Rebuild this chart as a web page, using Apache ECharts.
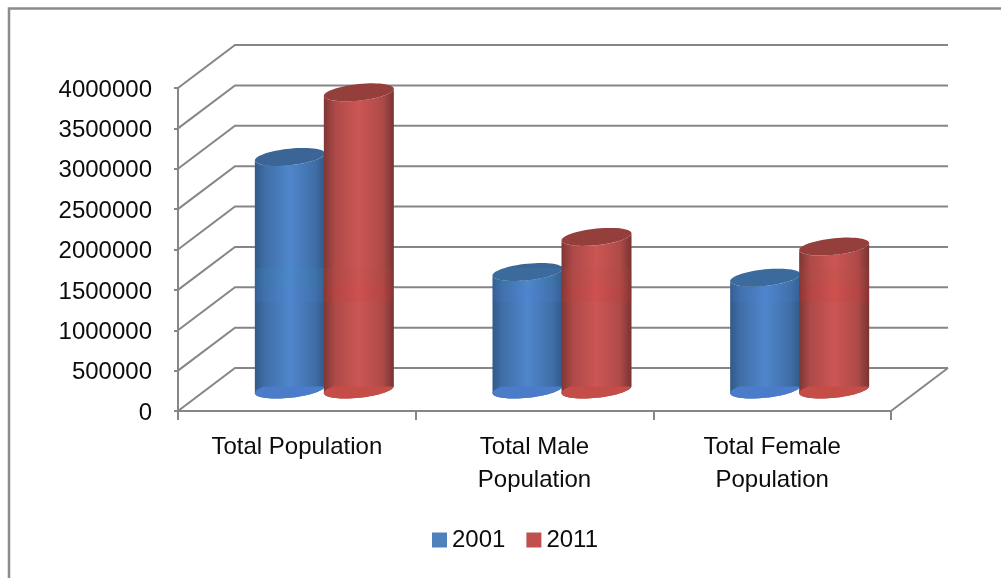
<!DOCTYPE html>
<html>
<head>
<meta charset="utf-8">
<style>html,body{margin:0;padding:0;background:#fff}#c{width:1001px;height:578px}</style>
<script src="https://cdn.jsdelivr.net/npm/echarts@6/dist/echarts.min.js"></script>
</head>
<body>
<div id="c"></div>
<script>
var categories = ['Total Population', 'Total Male\nPopulation', 'Total Female\nPopulation'];
var seriesNames = ['2001', '2011'];
var values2001 = [2880000, 1455000, 1385000];
var values2011 = [3680000, 1890000, 1770000];
var yTicks = [0, 500000, 1000000, 1500000, 2000000, 2500000, 3000000, 3500000, 4000000];

var AXIS = '#868686', FONT = 'Liberation Sans', TEXT = '#0c0c0c';
var DX = 57, DY = 43, RX = 35, RY = 8.3, TILT = 3.5;

function hGrad(stops) {
  return { type: 'linear', x: 0, y: 0, x2: 1, y2: 0,
    colorStops: stops.map(function (s) { return { offset: s[0], color: s[1] }; }) };
}
function ellipsePts(cx, cy, from, to, n) {
  var pts = [];
  for (var i = 0; i <= n; i++) {
    var t = from + (to - from) * i / n;
    pts.push([cx + RX * Math.cos(t), cy + RY * Math.sin(t) - TILT * Math.cos(t)]);
  }
  return pts;
}
function clampY(pts, a, b) {
  return pts.map(function (p) { return [p[0], Math.min(b, Math.max(a, p[1]))]; });
}
function wallItem(params, api) {
  var p = api.coord([0, api.value(1)]);
  var right = params.coordSys.x + params.coordSys.width;
  var left = params.coordSys.x;
  return { type: 'polyline', silent: true,
    shape: { points: [[left, p[1]], [left + DX, p[1] - DY], [right + DX, p[1] - DY]] },
    style: { stroke: AXIS, lineWidth: 2, fill: null } };
}
function floorItem(params) {
  var c = params.coordSys;
  var y = c.y + c.height;
  return { type: 'line', silent: true,
    shape: { x1: c.x + c.width, y1: y, x2: c.x + c.width + DX, y2: y - DY },
    style: { stroke: AXIS, lineWidth: 2 } };
}
function cylinder(side, grad, topColor, baseColor, bandA, bandB) {
  return function (params, api) {
    var top = api.coord([api.value(0), api.value(1)]);
    var base = api.coord([api.value(0), 0]);
    var mid = api.coord([api.value(0), 1500000]);
    var cx = top[0] + DX / 2 - 1 + side * 34.5;
    var ty = top[1] - DY / 2;
    var by = base[1] - DY / 2;
    var body = ellipsePts(cx, by, 0, Math.PI, 40).concat(ellipsePts(cx, ty, Math.PI, 0, 40));
    var outline = ellipsePts(cx, by, 0, Math.PI, 40).concat(ellipsePts(cx, ty, Math.PI, 2 * Math.PI, 40));
    var baseCap = clampY(ellipsePts(cx, by, 0, 2 * Math.PI, 60), by - 3, Infinity);
    var bandTop = mid[1] - 22;
    return { type: 'group', silent: true, children: [
      { type: 'polygon', shape: { points: body }, style: { fill: hGrad(grad) } },
      { type: 'polygon', shape: { points: baseCap }, style: { fill: baseColor } },
      { type: 'polygon', shape: { points: ellipsePts(cx, ty, 0, 2 * Math.PI, 60) }, style: { fill: topColor } },
      { type: 'polygon', shape: { points: clampY(outline, bandTop, bandTop + 17) }, style: { fill: bandA } },
      { type: 'polygon', shape: { points: clampY(outline, bandTop + 17, bandTop + 34) }, style: { fill: bandB } }
    ] };
  };
}
function pairs(vals) { return vals.map(function (v, i) { return [i, v]; }); }

var chart = echarts.init(document.getElementById('c'), null, { renderer: 'canvas' });
chart.setOption({
  animation: false,
  backgroundColor: '#fff',
  textStyle: { fontFamily: FONT },
  graphic: [{ type: 'polyline', silent: true,
    shape: { points: [[9, 578], [9, 8.5], [1001, 8.5]] },
    style: { stroke: '#8c8c8c', lineWidth: 2.5, fill: null } }],
  grid: { left: 178, top: 88, width: 713, height: 323, containLabel: false },
  legend: {
    data: seriesNames, left: 432, top: 528, icon: 'rect', itemWidth: 15, itemHeight: 15,
    itemGap: 21, selectedMode: false, padding: 0,
    textStyle: { fontFamily: FONT, fontSize: 24, color: TEXT, padding: [5, 0, 0, 0] }
  },
  xAxis: {
    type: 'category', data: categories, boundaryGap: true,
    axisLine: { show: true, onZero: false, lineStyle: { color: AXIS, width: 2 } },
    axisTick: { show: true, length: 9, alignWithLabel: false, lineStyle: { color: AXIS, width: 2 } },
    axisLabel: { color: TEXT, fontFamily: FONT, fontSize: 24, lineHeight: 33, margin: 20, interval: 0 },
    splitLine: { show: false }
  },
  yAxis: {
    type: 'value', min: 0, max: 4000000, interval: 500000,
    axisLine: { show: true, lineStyle: { color: AXIS, width: 2 } },
    axisTick: { show: true, length: 4, lineStyle: { color: AXIS, width: 2 } },
    axisLabel: { color: TEXT, fontFamily: FONT, fontSize: 24, margin: 26, verticalAlign: 'top', lineHeight: 4,
      formatter: function (v) { return String(v); } },
    splitLine: { show: false }
  },
  series: [
    { type: 'custom', name: 'wall', coordinateSystem: 'cartesian2d', silent: true,
      data: yTicks.map(function (v) { return [0, v]; }), renderItem: wallItem, clip: false, z: 1 },
    { type: 'custom', name: 'floor', coordinateSystem: 'cartesian2d', silent: true,
      data: [[0, 0]], renderItem: floorItem, clip: false, z: 1 },
    { type: 'custom', name: seriesNames[0], coordinateSystem: 'cartesian2d', clip: false, z: 3,
      itemStyle: { color: '#4f81bd' }, data: pairs(values2001),
      renderItem: cylinder(-1,
        [[0, '#33598a'], [0.14, '#3f6ea6'], [0.5, '#4f86cc'], [0.86, '#3f6ea6'], [1, '#33598a']],
        '#3b6597', '#4a7cc9', 'rgba(60,150,190,0.14)', 'rgba(80,130,230,0.12)') },
    { type: 'custom', name: seriesNames[1], coordinateSystem: 'cartesian2d', clip: false, z: 3,
      itemStyle: { color: '#c0504d' }, data: pairs(values2011),
      renderItem: cylinder(1,
        [[0, '#7d3735'], [0.16, '#ad4a48'], [0.5, '#cc5654'], [0.84, '#ad4a48'], [1, '#773432']],
        '#953f3c', '#c44d48', 'rgba(190,70,60,0.14)', 'rgba(220,50,50,0.14)') }
  ]
});
</script>
</body>
</html>
